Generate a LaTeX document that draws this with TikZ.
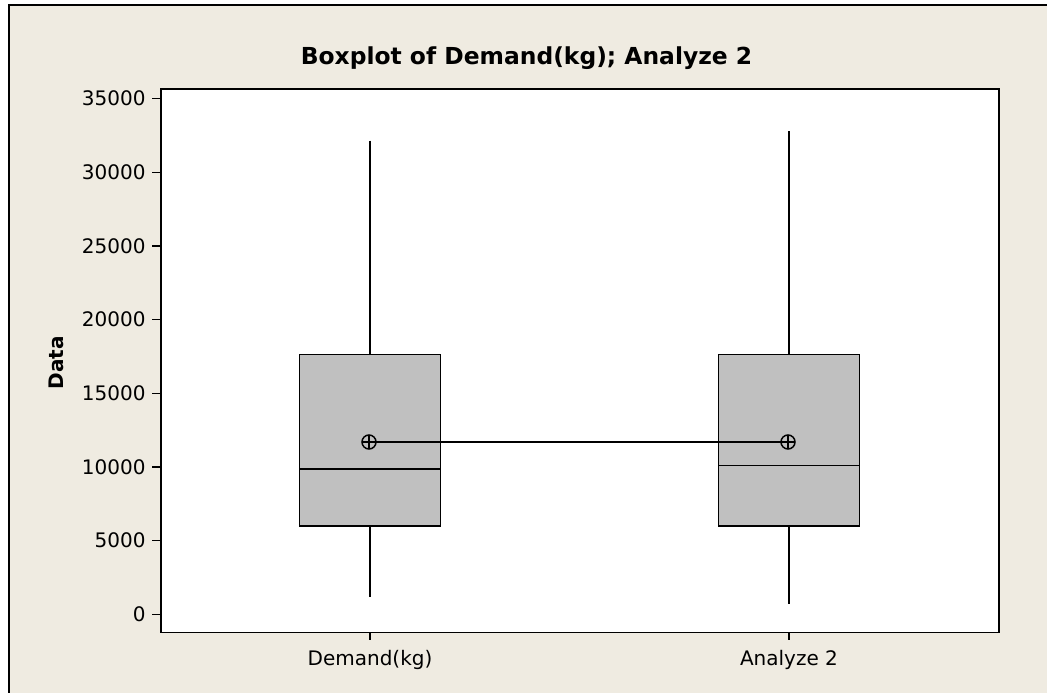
\documentclass[tikz,border=0pt]{standalone}
\usepackage{fontspec}
\setmainfont{DejaVu Sans}
\definecolor{bgbeige}{RGB}{239,235,225}
\definecolor{boxgray}{RGB}{192,192,192}
\tikzset{
  axisframe/.style={draw=black,line width=1.5pt},
  boxstyle/.style={draw=black,fill=boxgray,line width=1.5pt},
  whisk/.style={draw=black,line width=1.8pt},
  ticklab/.style={inner sep=0pt,font=\fontsize{20}{24}\selectfont},
  meanmark/.style={circle,draw=black,line width=1.5pt,minimum size=14pt,inner sep=0pt,
    path picture={\draw[line width=1.5pt] (path picture bounding box.north) -- (path picture bounding box.south)
      (path picture bounding box.west) -- (path picture bounding box.east);}},
}
\begin{document}
\begin{tikzpicture}[x=1pt,y=-1pt]
\useasboundingbox (0,0) rectangle (1047,693);
\clip (0,0) rectangle (1047,693);
\fill[white] (0,0) rectangle (1047,693);
% outer frame
\draw[fill=bgbeige,line width=2pt] (9,5) rectangle (1070,720);
% plot area
\fill[white] (161,89) rectangle (999,632.7);
% y ticks
\foreach \k in {0,...,7}{
  \pgfmathsetmacro{\yy}{614.3-\k*73.67}
  \pgfmathtruncatemacro{\lab}{\k*5}
  \draw[line width=1.5pt] (152,\yy) -- (161,\yy);
  \node[ticklab,anchor=east] (yt\k) at (145.7,\yy) {\ifnum\k=0 0\else\lab000\fi};
}
% x ticks
\draw[line width=1.5pt] (370,632.7) -- (370,640) (789,632.7) -- (789,640);
\node[ticklab,anchor=base] (xl1) at (370,665) {Demand(kg)};
\node[ticklab,anchor=base] (xl2) at (789,665) {Analyze 2};
% axis title
\node[inner sep=0pt,rotate=90,anchor=base,font=\fontsize{20}{24}\selectfont\bfseries] (ylab) at (63.3,362.7) {Data};
\node[inner sep=0pt,anchor=base,font=\fontsize{23.4}{28}\selectfont\bfseries] (title) at (526.5,65) {Boxplot of Demand(kg); Analyze 2};
% whiskers
\draw[whisk] (370,140.7) -- (370,596.7);
\draw[whisk] (789,131) -- (789,604);
% boxes
\draw[boxstyle] (299.3,354.7) rectangle (440.7,526);
\draw[boxstyle] (718.3,354.7) rectangle (859.7,526);
% medians
\draw[line width=1.5pt] (299.3,469) -- (440.7,469);
\draw[line width=1.5pt] (718.3,465.7) -- (859.7,465.7);
% means
\node[meanmark] (m1) at (369,442) {};
\node[meanmark] (m2) at (788,442) {};
\draw[line width=1.5pt] (m1.center) -- (m2.center);
% frame on top
\draw[axisframe] (161,89) rectangle (999,632.7);
\end{tikzpicture}
\end{document}
